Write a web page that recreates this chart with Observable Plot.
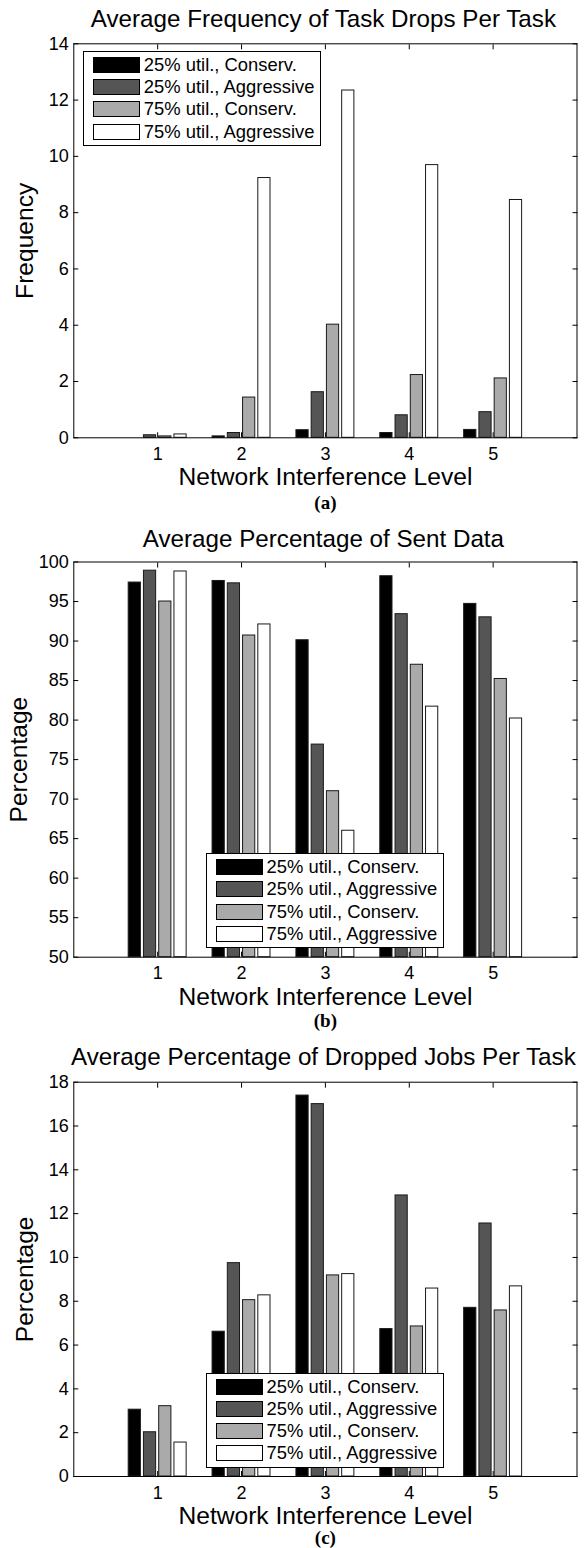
<!DOCTYPE html>
<html>
<head>
<meta charset="utf-8">
<script src="https://cdn.jsdelivr.net/npm/d3@7"></script>
<script src="https://cdn.jsdelivr.net/npm/@observablehq/plot@0.6"></script>
<style>
  body { margin: 0; background: #fff; font-family: "Liberation Sans", Arial, Helvetica, sans-serif; color: #000; }
  .panel { position: relative; width: 588px; height: 516px; }
  .panel svg { display: block; }
  .legend { position: absolute; box-sizing: border-box; width: 238px; height: 95px; border: 1px solid #000; background: #fff; font-size: 18.4px; }
  .legend .row { position: absolute; left: 0; height: 22px; display: flex; align-items: center; white-space: nowrap; }
  .legend .sw { box-sizing: border-box; width: 47px; height: 16px; border: 1px solid #000; margin-left: 8.5px; margin-right: 4px; }
</style>
</head>
<body>
<div id="chart"></div>
<script>
// Interference levels on the x axis and the four scheduling configurations
const levels = [1, 2, 3, 4, 5];
const seriesLabels = ["25% util., Conserv.", "25% util., Aggressive", "75% util., Conserv.", "75% util., Aggressive"];

// (a) average frequency of task drops per task
const dropsLowConserv  = [0.00, 0.05, 0.27, 0.17, 0.28];
const dropsLowAggr     = [0.09, 0.17, 1.62, 0.80, 0.91];
const dropsHighConserv = [0.05, 1.43, 4.02, 2.23, 2.11];
const dropsHighAggr    = [0.12, 9.23, 12.34, 9.69, 8.45];
const dropsTicks = [0, 2, 4, 6, 8, 10, 12, 14];

// (b) average percentage of sent data
const sentLowConserv  = [97.4, 97.6, 90.1, 98.2, 94.7];
const sentLowAggr     = [98.9, 97.3, 76.9, 93.4, 93.0];
const sentHighConserv = [95.0, 90.7, 71.0, 87.0, 85.2];
const sentHighAggr    = [98.8, 92.1, 66.0, 81.7, 80.2];
const sentTicks = [50, 55, 60, 65, 70, 75, 80, 85, 90, 95, 100];

// (c) average percentage of dropped jobs per task
const jobsLowConserv  = [3.05, 6.61, 17.39, 6.73, 7.70];
const jobsLowAggr     = [2.02, 9.74, 17.00, 12.83, 11.55];
const jobsHighConserv = [3.21, 8.05, 9.18, 6.85, 7.58];
const jobsHighAggr    = [1.55, 8.27, 9.24, 8.58, 8.68];
const jobsTicks = [0, 2, 4, 6, 8, 10, 12, 14, 16, 18];

const xLabel = "Network Interference Level";
const fills = ["#000000", "#555555", "#aaaaaa", "#ffffff"];

// grouped-bar geometry (in x units): group occupies n/(n+1.5), each bar 80% of its slot
const nSeries = seriesLabels.length;
const groupWidth = nSeries / (nSeries + 1.5);
const slot = groupWidth / nSeries;
const barWidth = slot * 0.8;

const font = "'Liberation Sans', Arial, Helvetica, sans-serif";

function drawPanel(cfg) {
  const bars = [];
  cfg.series.forEach((vals, s) => {
    vals.forEach((v, i) => {
      const c = levels[i] + (s - (nSeries - 1) / 2) * slot;
      bars.push({level: levels[i], series: s, value: v, x1: c - barWidth / 2, x2: c + barWidth / 2});
    });
  });
  const base = cfg.ticks[0];
  const ml = 73.3, mr = 11.5;

  const plot = Plot.plot({
    width: 588,
    height: 516,
    marginTop: cfg.marginTop,
    marginBottom: cfg.marginBottom,
    marginLeft: ml,
    marginRight: mr,
    style: {fontFamily: font, color: "#000", background: "transparent", overflow: "visible"},
    x: {domain: [0, 6]},
    y: {domain: [cfg.ticks[0], cfg.ticks[cfg.ticks.length - 1]]},
    marks: [
      Plot.rect(bars, {
        x1: "x1", x2: "x2", y1: () => base, y2: "value",
        fill: d => fills[d.series], stroke: "#1a1a1a", strokeWidth: 1
      }),
      Plot.frame({stroke: "#000", strokeWidth: 1}),
      // tick labels
      Plot.axisX(levels, {anchor: "bottom", tickSize: 0, tickPadding: 9.5, fontSize: 18, label: null, tickFormat: d => String(d)}),
      Plot.axisY(cfg.ticks, {anchor: "left", tickSize: 0, tickPadding: 5, fontSize: 18, label: null, tickFormat: d => String(d)}),
      // inward tick marks on all four sides
      Plot.axisX(levels, {anchor: "bottom", tickSize: -5, fill: "none", label: null}),
      Plot.axisX(levels, {anchor: "top", tickSize: -5, fill: "none", label: null}),
      Plot.axisY(cfg.ticks, {anchor: "left", tickSize: -5, fill: "none", label: null}),
      Plot.axisY(cfg.ticks, {anchor: "right", tickSize: -5, fill: "none", label: null}),
      // title, axis titles and caption
      Plot.text([cfg.title], {text: d => d, frameAnchor: "top", lineAnchor: "middle", textAnchor: "middle", dy: cfg.titleDy, dx: -2, fontSize: 24.2, fill: "#000"}),
      Plot.text([xLabel], {text: d => d, frameAnchor: "bottom", lineAnchor: "middle", textAnchor: "middle", dy: 39.5, fontSize: 24.6, fill: "#000"}),
      Plot.text([cfg.caption], {text: d => d, frameAnchor: "bottom", lineAnchor: "middle", textAnchor: "middle", dy: cfg.captionDy, fontSize: 19, fontWeight: "bold", fontFamily: "'Liberation Serif', 'Times New Roman', serif", fill: "#000"}),
      Plot.text([cfg.yLabel], {text: d => d, frameAnchor: "left", lineAnchor: "middle", textAnchor: "middle", rotate: -90, dx: cfg.yLabelX - ml, fontSize: 24.6, fill: "#000"})
    ]
  });

  const wrap = document.createElement("div");
  wrap.className = "panel";
  wrap.appendChild(plot);

  const legend = document.createElement("div");
  legend.className = "legend";
  legend.style.left = cfg.legendLeft + "px";
  legend.style.top = cfg.legendTop + "px";
  seriesLabels.forEach((label, s) => {
    const row = document.createElement("div");
    row.className = "row";
    row.style.top = (2 + s * 22.2) + "px";
    const sw = document.createElement("span");
    sw.className = "sw";
    sw.style.background = fills[s];
    const tx = document.createElement("span");
    tx.textContent = label;
    row.appendChild(sw);
    row.appendChild(tx);
    legend.appendChild(row);
  });
  wrap.appendChild(legend);
  document.getElementById("chart").appendChild(wrap);
}

drawPanel({
  title: "Average Frequency of Task Drops Per Task",
  yLabel: "Frequency",
  caption: "(a)",
  series: [dropsLowConserv, dropsLowAggr, dropsHighConserv, dropsHighAggr],
  ticks: dropsTicks,
  marginTop: 43.3, marginBottom: 78.7,
  titleDy: -25, captionDy: 65.5, yLabelX: 25,
  legendLeft: 83.3, legendTop: 51
});

drawPanel({
  title: "Average Percentage of Sent Data",
  yLabel: "Percentage",
  caption: "(b)",
  series: [sentLowConserv, sentLowAggr, sentHighConserv, sentHighAggr],
  ticks: sentTicks,
  marginTop: 45.5, marginBottom: 75.3,
  titleDy: -23, captionDy: 63.5, yLabelX: 19,
  legendLeft: 206, legendTop: 337.3
});

drawPanel({
  title: "Average Percentage of Dropped Jobs Per Task",
  yLabel: "Percentage",
  caption: "(c)",
  series: [jobsLowConserv, jobsLowAggr, jobsHighConserv, jobsHighAggr],
  ticks: jobsTicks,
  marginTop: 49.7, marginBottom: 72,
  titleDy: -24.7, captionDy: 61.5, yLabelX: 25,
  legendLeft: 206, legendTop: 340.7
});
</script>
</body>
</html>
